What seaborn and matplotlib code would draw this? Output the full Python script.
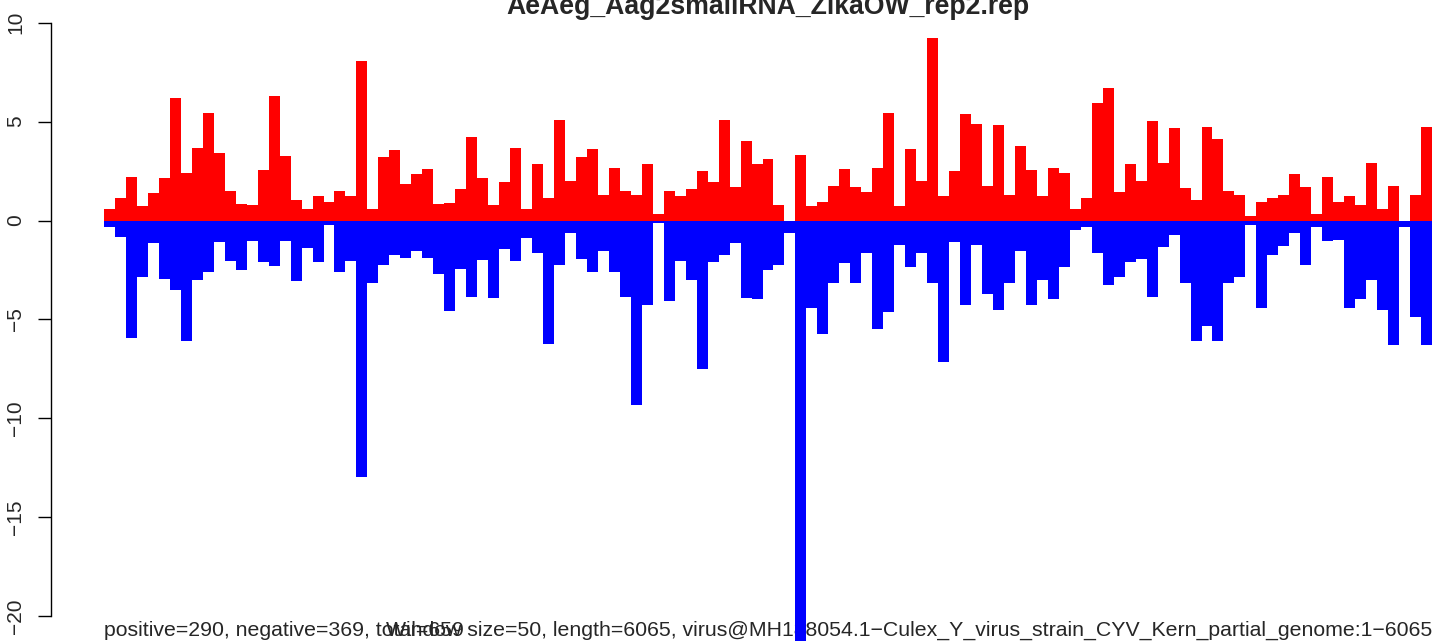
import numpy as np
import pandas as pd
import matplotlib
matplotlib.use("Agg")
import matplotlib.pyplot as plt
import seaborn as sns

# ---- data ----
positive = [0.60, 1.12, 2.18, 0.71, 1.41, 2.14, 6.20, 2.39, 3.66, 5.45,
            3.41, 1.48, 0.85, 0.77, 2.54, 6.30, 3.24, 1.06, 0.56, 1.23,
            0.96, 1.48, 1.23, 8.09, 0.60, 3.20, 3.56, 1.83, 2.33, 2.62,
            0.85, 0.91, 1.58, 4.22, 2.14, 0.77, 1.93, 3.66, 0.60, 2.85,
            1.12, 5.07, 2.00, 3.20, 3.62, 1.27, 2.68, 1.48, 1.31, 2.85,
            0.35, 1.48, 1.23, 1.58, 2.49, 1.93, 5.07, 1.68, 4.01, 2.85,
            3.10, 0.77, 0.00, 3.31, 0.71, 0.96, 1.77, 2.60, 1.68, 1.43,
            2.68, 5.45, 0.71, 3.62, 2.00, 9.21, 1.23, 2.49, 5.38, 4.89,
            1.77, 4.82, 1.27, 3.76, 2.54, 1.23, 2.68, 2.39, 0.56, 1.12,
            5.95, 6.72, 1.43, 2.85, 2.00, 5.03, 2.89, 4.68, 1.62, 1.06,
            4.72, 4.12, 1.48, 1.27, 0.21, 0.96, 1.12, 1.27, 2.33, 1.68,
            0.31, 2.18, 0.96, 1.23, 0.77, 2.89, 0.56, 1.77, 0.00, 1.31,
            4.72]
negative = [-0.35, -0.81, -5.95, -2.85, -1.16, -2.95, -3.51, -6.11, -2.99, -2.62,
            -1.08, -2.06, -2.49, -1.02, -2.12, -2.29, -1.02, -3.06, -1.37, -2.12,
            -0.25, -2.58, -2.06, -12.95, -3.18, -2.25, -1.73, -1.89, -1.54, -1.89,
            -2.70, -4.57, -2.45, -3.85, -2.00, -3.93, -1.43, -2.06, -0.87, -1.62,
            -6.24, -2.25, -0.62, -1.93, -2.58, -1.54, -2.58, -3.85, -9.33, -4.26,
            -0.15, -4.05, -2.06, -2.99, -7.51, -2.12, -1.77, -1.16, -3.91, -3.95,
            -2.49, -2.25, -0.62, -22.00, -4.41, -5.76, -3.14, -2.14, -3.18, -1.62,
            -5.49, -4.64, -1.23, -2.33, -1.62, -3.18, -7.17, -1.08, -4.26, -1.23,
            -3.74, -4.55, -3.18, -1.52, -4.28, -2.99, -3.97, -2.33, -0.50, -0.33,
            -1.62, -3.28, -2.85, -2.12, -1.93, -3.85, -1.35, -0.71, -3.14, -6.09,
            -5.32, -6.09, -3.14, -2.85, -0.25, -4.45, -1.77, -1.31, -0.64, -2.27,
            -0.33, -1.06, -1.00, -4.41, -3.95, -2.99, -4.55, -6.28, -0.33, -4.89,
            -6.28]
yticks = [-20, -15, -10, -5, 0, 5, 10]
title = "AeAeg_Aag2smallRNA_ZikaOW_rep2.rep"
left_note = "positive=290, negative=369, total=659"
right_note = ("Window size=50, length=6065, "
              "virus@MH188054.1\u2212Culex_Y_virus_strain_CYV_Kern_partial_genome:1\u22126065")

n = len(positive)
df = pd.DataFrame({"bin": np.arange(n), "pos": positive, "neg": negative})

sns.set_style("white")
plt.rcParams["font.family"] = ["Liberation Sans", "DejaVu Sans"]

W, H = 1436, 641
fig = plt.figure(figsize=(W / 100, H / 100), dpi=100)

# pixel geometry of the reference
bar_left_px, bar_right_px = 104.0, 1432.0
px_per_bar = (bar_right_px - bar_left_px) / n
axis_px = 50.9
zero_px, px_per_unit = 220.5, 19.77

ax = fig.add_axes([axis_px / W, 0, 1 - axis_px / W, 1])

sns.barplot(data=df, x="bin", y="pos", color="#FF0000", width=1, saturation=1,
            linewidth=0, errorbar=None, ax=ax, zorder=2)
sns.barplot(data=df, x="bin", y="neg", color="#0000FF", width=1, saturation=1,
            linewidth=0, errorbar=None, ax=ax, zorder=2)

xl = -0.5 - (bar_left_px - axis_px) / px_per_bar
xr = n - 0.5 + (W - bar_right_px) / px_per_bar
ax.set_xlim(xl, xr)
ax.set_ylim(-(H - zero_px) / px_per_unit, zero_px / px_per_unit)

for s in ["top", "right", "bottom"]:
    ax.spines[s].set_visible(False)
ax.spines["left"].set_bounds(yticks[0], yticks[-1])
ax.spines["left"].set_linewidth(1.0)
ax.spines["left"].set_color("black")
ax.set_xticks([])
ax.set_yticks(yticks)
ax.set_yticklabels([str(v).replace("-", "\u2212") for v in yticks])
ax.tick_params(axis="y", direction="out", length=9.5, width=1.0, color="black",
               labelsize=15, pad=9, left=True)
for lab in ax.get_yticklabels():
    lab.set_rotation(90)
    lab.set_va("center")
ax.set_xlabel("")
ax.set_ylabel("")
ax.patch.set_alpha(0)

# title (partially cut off at the top like the reference)
fig.text((axis_px + 1485) / 2 / W, 1 - 14 / H, title, ha="center", va="baseline",
         fontsize=19.2, fontweight="bold")

# bottom notes (drawn beneath the bars)
tr = fig.transFigure
ax.text(bar_left_px / W, 1 - 636 / H, left_note, transform=tr, ha="left",
        va="baseline", fontsize=15.3, zorder=1, clip_on=False)
ax.text(bar_right_px / W, 1 - 636 / H, right_note, transform=tr, ha="right",
        va="baseline", fontsize=15.3, zorder=1, clip_on=False)

fig.savefig("out.png", dpi=100)
